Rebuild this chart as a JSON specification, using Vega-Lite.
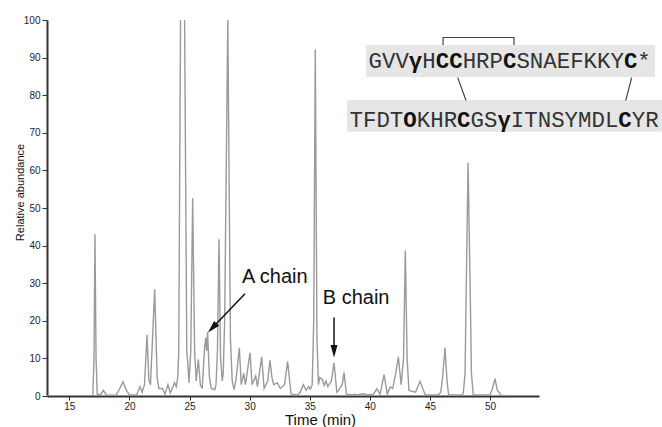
{
  "$schema": "https://vega.github.io/schema/vega-lite/v6.json",
  "width": 492,
  "height": 376,
  "autosize": {"type": "none"},
  "padding": {"left": 47, "top": 20, "right": 123, "bottom": 31},
  "background": "white",
  "config": {
    "view": {"stroke": null},
    "axis": {"labelFont": "Liberation Sans", "titleFont": "Liberation Sans", "domainColor": "#333333", "domainWidth": 2, "tickColor": "#333333", "labelColor": "#222222", "titleColor": "#111111", "grid": false, "titleFontWeight": "normal", "labelOverlap": false}
  },
  "datasets": {
    "trace": [
      {"t":13.15,"v":0},{"t":16.95,"v":0},{"t":17.05,"v":10},{"t":17.13,"v":43},{"t":17.22,"v":10},{"t":17.32,"v":0.5},
      {"t":17.6,"v":0.3},{"t":17.82,"v":1.5},{"t":18.1,"v":0.2},{"t":18.9,"v":0.3},{"t":19.2,"v":2},{"t":19.46,"v":3.8},{"t":19.75,"v":1.5},{"t":20.0,"v":0.3},
      {"t":20.6,"v":0.3},{"t":20.88,"v":2.5},{"t":21.05,"v":1},{"t":21.25,"v":3},{"t":21.46,"v":16.3},{"t":21.62,"v":4},{"t":21.75,"v":3},{"t":22.1,"v":28.4},{"t":22.3,"v":5},{"t":22.45,"v":2},
      {"t":22.75,"v":2},{"t":22.95,"v":0.5},{"t":23.2,"v":3},{"t":23.4,"v":0.8},{"t":23.75,"v":3.5},{"t":23.9,"v":2.5},{"t":24.02,"v":5},{"t":24.10,"v":11.6},{"t":24.40,"v":190},{"t":24.77,"v":11.6},{"t":24.85,"v":9},
      {"t":24.95,"v":3.5},{"t":25.1,"v":12},{"t":25.26,"v":52.6},{"t":25.42,"v":12},{"t":25.55,"v":4},{"t":25.73,"v":9.7},{"t":25.9,"v":3},{"t":26.05,"v":2},{"t":26.25,"v":13},{"t":26.35,"v":15.5},{"t":26.42,"v":12},{"t":26.5,"v":17},{"t":26.65,"v":5},{"t":26.8,"v":2},
      {"t":27.1,"v":1.7},{"t":27.2,"v":3},{"t":27.32,"v":12},{"t":27.45,"v":41.7},{"t":27.58,"v":10},{"t":27.72,"v":4},{"t":27.8,"v":6},{"t":27.92,"v":20},{"t":28.18,"v":100.5},{"t":28.4,"v":15},{"t":28.55,"v":4},
      {"t":28.7,"v":1.7},{"t":28.85,"v":4},{"t":29.14,"v":12.8},{"t":29.3,"v":3},{"t":29.5,"v":6},{"t":29.65,"v":3},{"t":30.03,"v":11.5},{"t":30.2,"v":3},{"t":30.5,"v":5.3},{"t":30.65,"v":2.5},{"t":31.0,"v":10.4},{"t":31.2,"v":2},{"t":31.5,"v":4},{"t":31.69,"v":9.5},{"t":31.85,"v":5},{"t":32.0,"v":3},{"t":32.3,"v":3.5},{"t":32.55,"v":2},{"t":32.9,"v":3},{"t":33.16,"v":9.2},{"t":33.44,"v":0.5},
      {"t":34.0,"v":0.3},{"t":34.2,"v":1},{"t":34.47,"v":3},{"t":34.7,"v":1.5},{"t":34.9,"v":2.5},{"t":35.05,"v":1.8},{"t":35.2,"v":3},{"t":35.33,"v":20},{"t":35.46,"v":92.2},{"t":35.6,"v":15},{"t":35.72,"v":3},{"t":35.83,"v":4.9},{"t":36.05,"v":4.4},{"t":36.2,"v":2.8},{"t":36.35,"v":4},{"t":36.5,"v":2.5},{"t":36.8,"v":4},{"t":37.02,"v":8.8},{"t":37.25,"v":1},{"t":37.4,"v":1.5},{"t":37.7,"v":3},{"t":37.85,"v":6.2},{"t":38.05,"v":0.5},
      {"t":38.5,"v":0.3},{"t":38.7,"v":0.5},{"t":38.9,"v":0.3},{"t":39.5,"v":0.6},{"t":39.8,"v":0.3},{"t":40.3,"v":0.5},{"t":40.57,"v":1.9},{"t":40.85,"v":0.5},{"t":41.18,"v":5.7},{"t":41.45,"v":0.5},{"t":41.7,"v":2.4},{"t":41.9,"v":2},{"t":42.15,"v":6},{"t":42.37,"v":10.4},{"t":42.6,"v":3},{"t":42.8,"v":10},{"t":42.95,"v":38.7},{"t":43.1,"v":10},{"t":43.25,"v":1.5},
      {"t":43.8,"v":1},{"t":44.17,"v":3.9},{"t":44.6,"v":0.3},{"t":45.7,"v":0.3},{"t":45.9,"v":1},{"t":46.05,"v":5},{"t":46.25,"v":12.8},{"t":46.42,"v":4},{"t":46.55,"v":0.3},
      {"t":47.7,"v":0.3},{"t":47.78,"v":1},{"t":47.92,"v":6},{"t":48.0,"v":25},{"t":48.17,"v":62},{"t":48.36,"v":25},{"t":48.45,"v":6},{"t":48.6,"v":0.3},
      {"t":50.0,"v":0.3},{"t":50.15,"v":1.5},{"t":50.41,"v":4.6},{"t":50.6,"v":1.5},{"t":50.75,"v":1},{"t":50.9,"v":0.2},{"t":51.6,"v":0}
    ],
    "boxes": [
      {"t":39.68,"t2":63.72,"v":93.36,"v2":84.86},
      {"t":38.10,"t2":64.30,"v":78.75,"v2":70.25}
    ],
    "bracket": [
      {"i":1,"t":46.09,"v":93.36},{"i":2,"t":46.09,"v":95.35},{"i":3,"t":51.99,"v":95.35},{"i":4,"t":51.99,"v":93.36}
    ],
    "bonds": [
      {"t":47.31,"v":84.67,"t2":48.00,"v2":78.57},
      {"t":61.78,"v":84.67,"t2":61.28,"v2":78.57}
    ],
    "shafts": [
      {"t":29.61,"v":27.2,"t2":26.89,"v2":18.09},
      {"t":37.02,"v":20.85,"t2":37.02,"v2":11.9}
    ],
    "labels": [
      {"t":29.36,"v":31.74,"label":"A chain"},
      {"t":36.08,"v":26.16,"label":"B chain"}
    ],
    "seq": [
      {"t":39.890,"v":87.25,"label":"GVV"},
      {"t":44.362,"v":87.25,"label":"H"},
      {"t":47.717,"v":87.25,"label":"HRP"},
      {"t":52.189,"v":87.25,"label":"SNAEFKKY"},
      {"t":62.252,"v":87.25,"label":"*"},
      {"t":38.310,"v":71.58,"label":"TFDT"},
      {"t":43.901,"v":71.58,"label":"KHR"},
      {"t":48.373,"v":71.58,"label":"GS"},
      {"t":51.727,"v":71.58,"label":"ITNSYMDL"},
      {"t":61.790,"v":71.58,"label":"YR"}
    ],
    "boldres": [
      {"t":43.244,"v":87.25,"label":"γ"},
      {"t":45.480,"v":87.25,"label":"CC"},
      {"t":51.070,"v":87.25,"label":"C"},
      {"t":61.134,"v":87.25,"label":"C"},
      {"t":42.782,"v":71.58,"label":"O"},
      {"t":47.255,"v":71.58,"label":"C"},
      {"t":50.609,"v":71.58,"label":"γ"},
      {"t":60.672,"v":71.58,"label":"C"}
    ]
  },
  "encoding": {
    "x": {"field": "t", "type": "quantitative", "scale": {"domain": [13.14, 54.07], "nice": false, "zero": false},
      "axis": {"values": [15,20,25,30,35,40,45,50], "tickSize": 4, "labelPadding": 1, "labelFontSize": 10, "title": "Time (min)", "titleFontSize": 15, "titleX": 273, "titleY": 28.5, "titleBaseline": "alphabetic"}},
    "y": {"field": "v", "type": "quantitative", "scale": {"domain": [0, 100], "nice": false, "zero": false},
      "axis": {"values": [0,10,20,30,40,50,60,70,80,90,100], "tickSize": 5, "labelPadding": 2, "labelFontSize": 10, "title": "Relative abundance", "titleFont": "Liberation Sans Narrow, Liberation Sans", "titleFontSize": 11, "titleAngle": -90, "titleX": -24, "titleY": 172, "titleBaseline": "alphabetic"}}
  },
  "layer": [
    {
      "data": {"name": "boxes"},
      "mark": {"type": "rect", "fill": "#e6e6e6"},
      "encoding": {"x2": {"field": "t2"}, "y2": {"field": "v2"}}
    },
    {
      "data": {"name": "trace"},
      "mark": {"type": "line", "clip": true, "stroke": "#9a9a9a", "strokeWidth": 1.4},
      "encoding": {}
    },
    {
      "data": {"name": "bracket"},
      "mark": {"type": "line", "stroke": "#444444", "strokeWidth": 1.2},
      "encoding": {"order": {"field": "i"}}
    },
    {
      "data": {"name": "bonds"},
      "mark": {"type": "rule", "stroke": "#444444", "strokeWidth": 1.2},
      "encoding": {"x2": {"field": "t2"}, "y2": {"field": "v2"}}
    },
    {
      "data": {"name": "shafts"},
      "mark": {"type": "rule", "stroke": "#111111", "strokeWidth": 1.5},
      "encoding": {"x2": {"field": "t2"}, "y2": {"field": "v2"}}
    },
    {
      "data": {"values": [{"t": 26.89, "v": 18.09}]},
      "mark": {"type": "point", "shape": "M0,-1L0.55,1L-0.55,1Z", "filled": true, "fill": "#111111", "size": 160, "angle": 223.5, "opacity": 1},
      "encoding": {}
    },
    {
      "data": {"values": [{"t": 37.02, "v": 11.9}]},
      "mark": {"type": "point", "shape": "M0,-1L0.55,1L-0.55,1Z", "filled": true, "fill": "#111111", "size": 160, "angle": 180, "opacity": 1},
      "encoding": {}
    },
    {
      "data": {"name": "labels"},
      "mark": {"type": "text", "align": "left", "baseline": "middle", "font": "Liberation Sans", "fontSize": 20, "fill": "#111111"},
      "encoding": {"text": {"field": "label"}}
    },
    {
      "data": {"name": "seq"},
      "mark": {"type": "text", "align": "left", "baseline": "alphabetic", "font": "Liberation Mono", "fontSize": 22.4, "fill": "#333333"},
      "encoding": {"text": {"field": "label"}}
    },
    {
      "data": {"name": "boldres"},
      "mark": {"type": "text", "align": "left", "baseline": "alphabetic", "font": "Liberation Mono", "fontSize": 22.4, "fontWeight": "bold", "fill": "#111111"},
      "encoding": {"text": {"field": "label"}}
    }
  ]
}
